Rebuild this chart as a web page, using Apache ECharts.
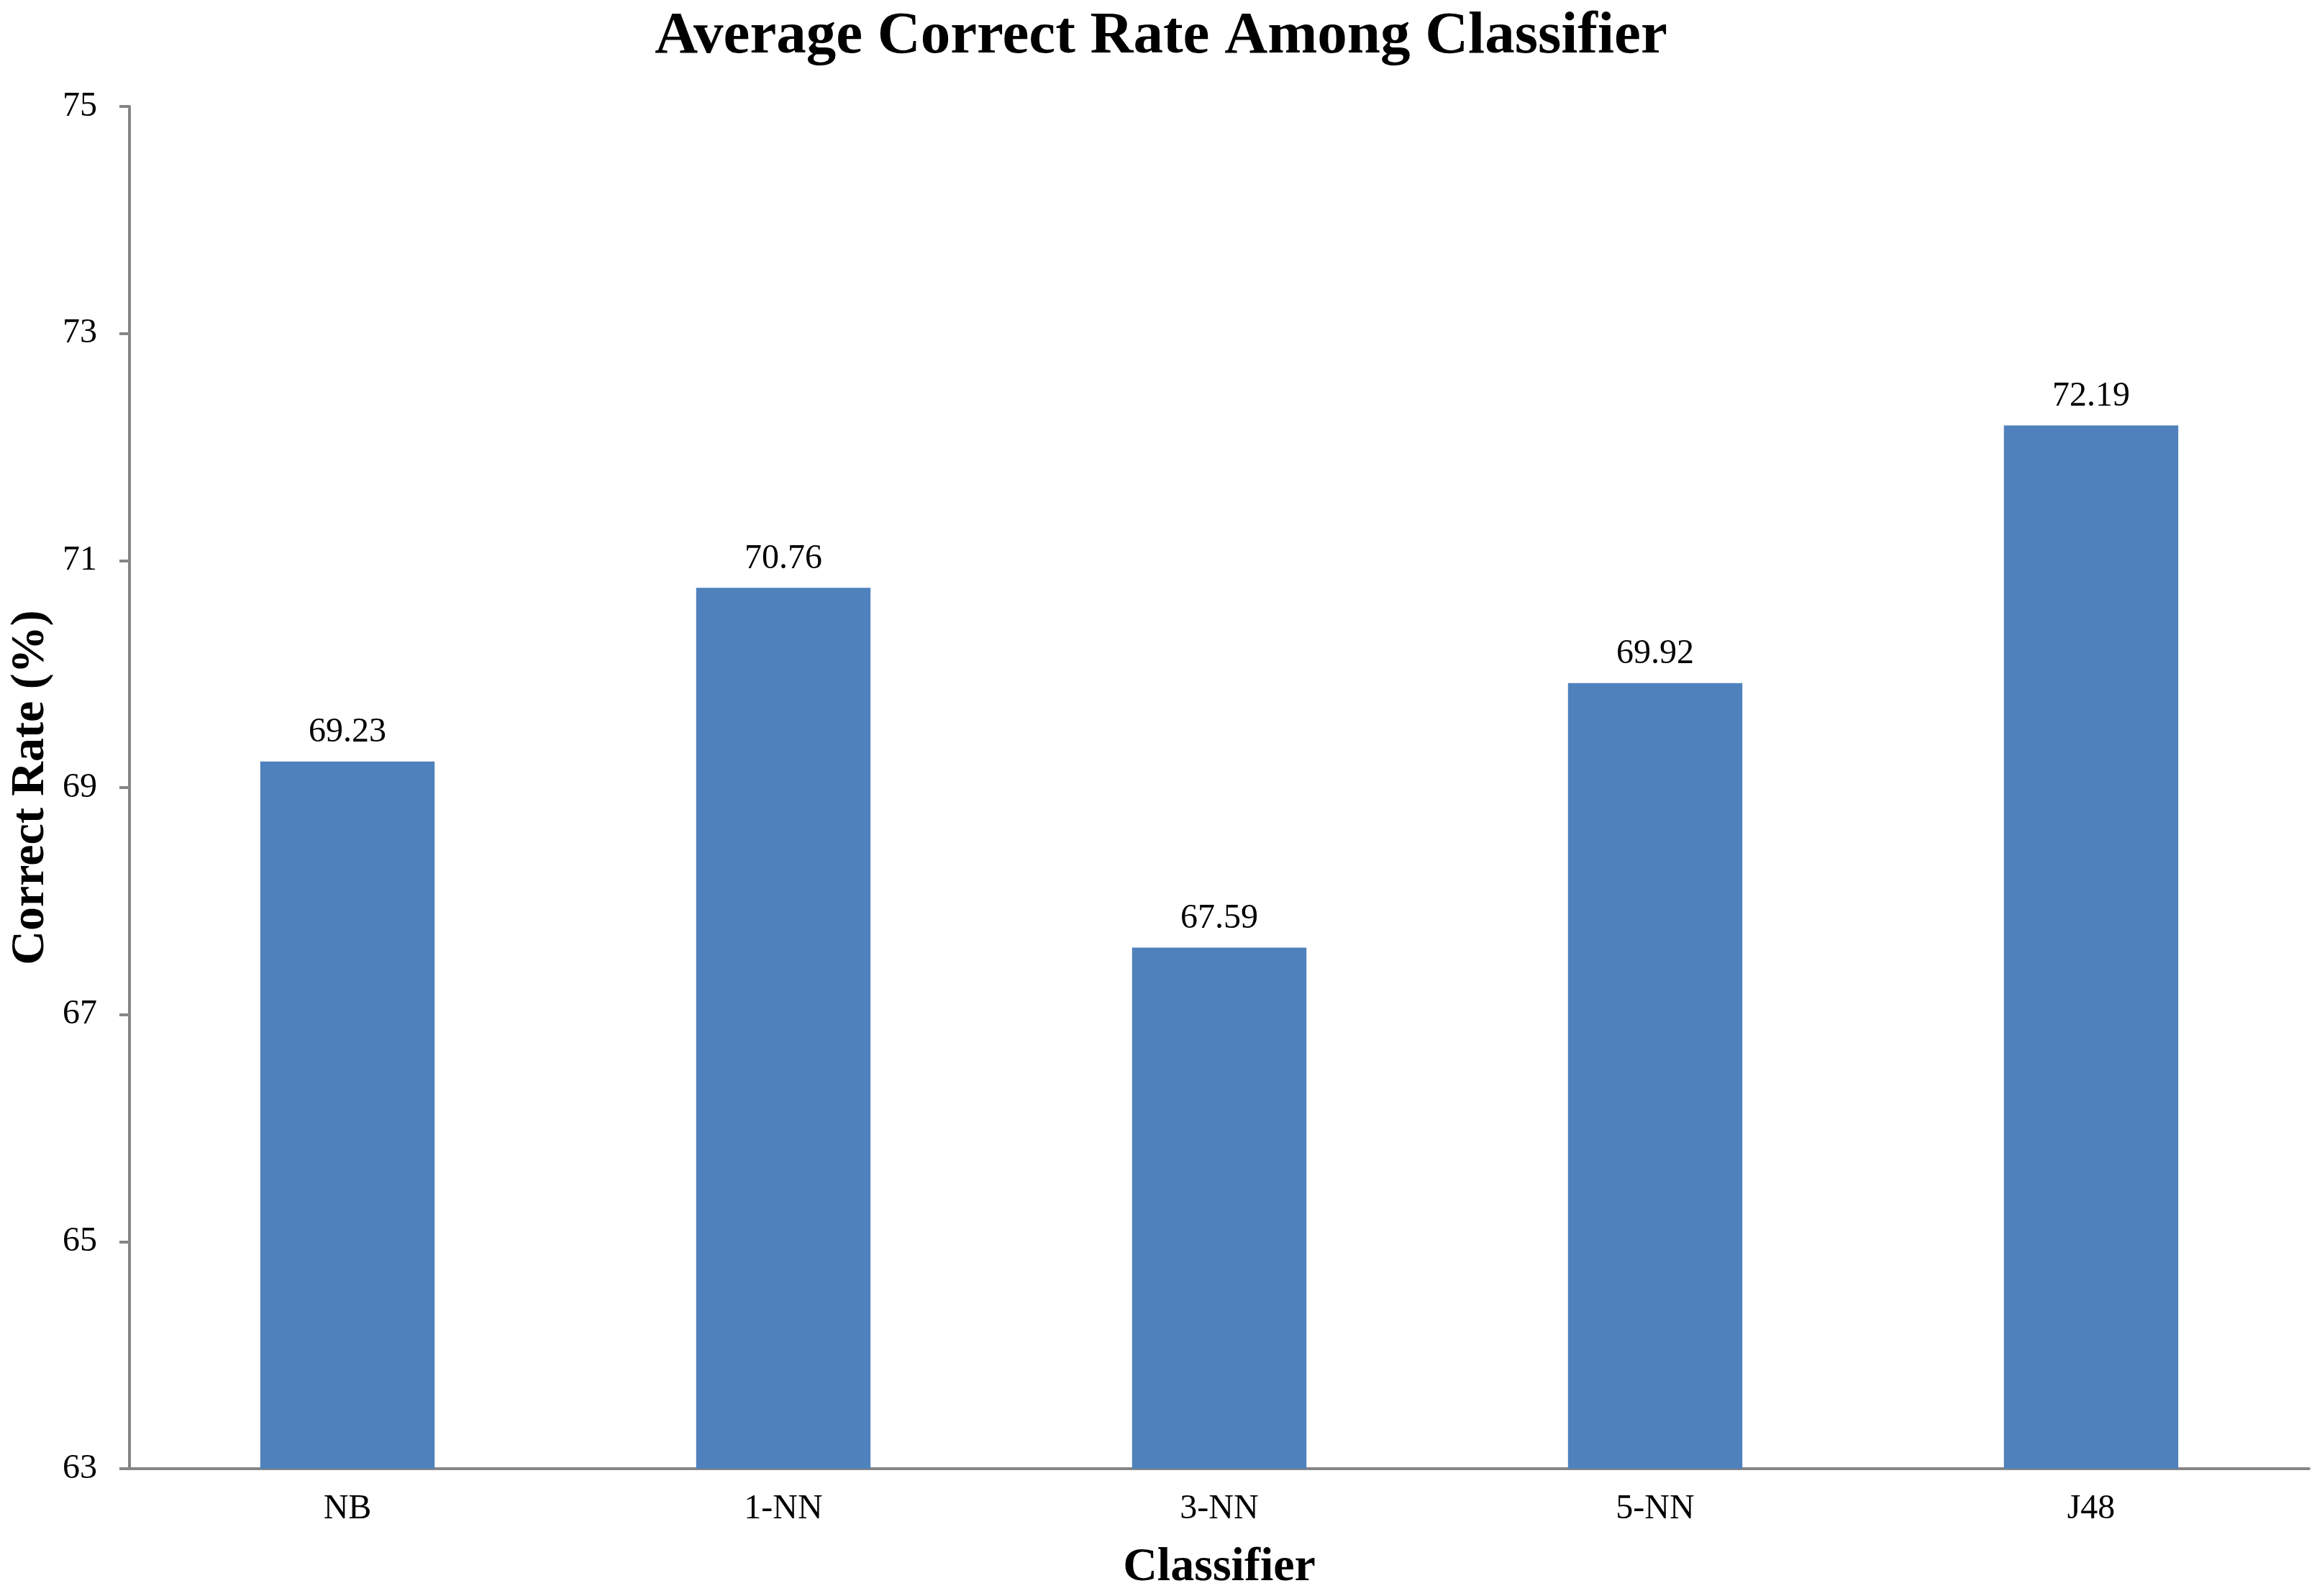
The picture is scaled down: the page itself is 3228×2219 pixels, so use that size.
<!DOCTYPE html>
<html>
<head>
<meta charset="utf-8">
<script src="https://cdn.jsdelivr.net/npm/echarts@6/dist/echarts.min.js"></script>
<style>html,body{margin:0;padding:0;background:#fff;}#c{width:3228px;height:2219px;}</style>
</head>
<body>
<div id="c"></div>
<script>
const categories = ['NB', '1-NN', '3-NN', '5-NN', 'J48'];
const values = [69.23, 70.76, 67.59, 69.92, 72.19];
const yTicks = [63, 65, 67, 69, 71, 73, 75];
const titleText = 'Average Correct Rate Among Classifier';
const xName = 'Classifier';
const yName = 'Correct Rate (%)';

const font = 'Liberation Serif, Times New Roman, serif';
const chart = echarts.init(document.getElementById('c'), null, {renderer: 'canvas'});
chart.setOption({
  backgroundColor: '#ffffff',
  animation: false,
  title: {
    text: titleText,
    left: 'center',
    top: 5,
    textStyle: {fontFamily: font, fontSize: 83, fontWeight: 'bold', color: '#000'}
  },
  grid: {left: 180, right: 18, top: 148, bottom: 177, containLabel: false},
  xAxis: {
    type: 'category',
    data: categories,
    name: xName,
    nameLocation: 'middle',
    nameGap: 105,
    nameTextStyle: {fontFamily: font, fontSize: 66, fontWeight: 'bold', color: '#000'},
    axisLine: {lineStyle: {color: '#868686', width: 4}},
    axisTick: {show: false},
    axisLabel: {fontFamily: font, fontSize: 48, color: '#000', margin: 32}
  },
  yAxis: {
    type: 'value',
    min: 63,
    max: 75,
    name: yName,
    nameLocation: 'middle',
    nameGap: 100,
    nameRotate: 90,
    nameTextStyle: {fontFamily: font, fontSize: 66, fontWeight: 'bold', color: '#000'},
    axisLine: {show: true, lineStyle: {color: '#868686', width: 4}},
    axisTick: {show: true, length: 14, lineStyle: {color: '#868686', width: 4}, customValues: yTicks},
    axisLabel: {fontFamily: font, fontSize: 48, color: '#000', margin: 45, customValues: yTicks},
    splitLine: {show: false}
  },
  series: [{
    type: 'bar',
    data: values,
    barWidth: '40%',
    itemStyle: {color: '#4F81BD'},
    label: {
      show: true,
      position: 'top',
      distance: 16,
      fontFamily: font,
      fontSize: 48,
      color: '#000',
      formatter: p => p.value.toFixed(2)
    }
  }]
});
</script>
</body>
</html>
